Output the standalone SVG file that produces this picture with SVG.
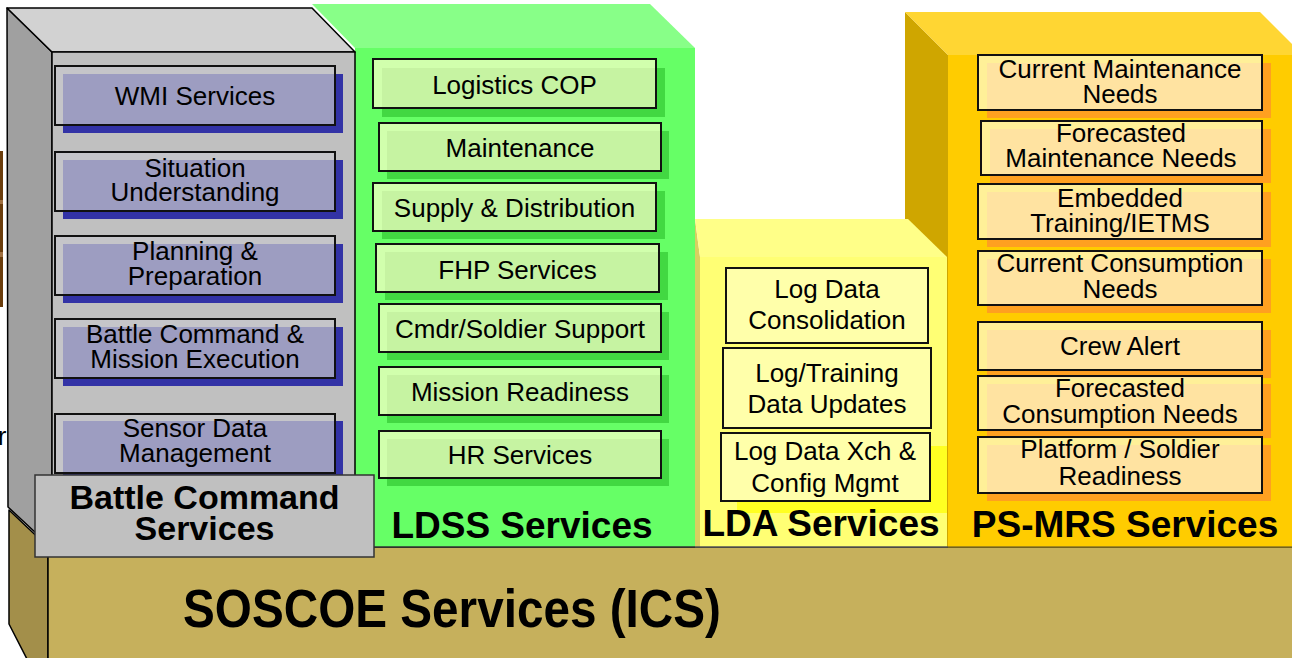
<svg xmlns="http://www.w3.org/2000/svg" width="1292" height="658" viewBox="0 0 1292 658">
  <style>
    text { font-family: "Liberation Sans", Arial, Helvetica, sans-serif; fill: #000; text-anchor: middle; }
    .item { font-size: 26px; }
    .title { font-size: 37px; font-weight: bold; }
    .edge { stroke: #000; stroke-width: 1.5; stroke-linejoin: round; }
    /* battle command items */
    .bc-shadow { fill: #3333a6; }
    .bc-face { fill: #c6c6cc; fill-opacity: 0.72; stroke: #111; stroke-width: 2; }
    /* LDSS items */
    .ld-shadow { fill: #42d842; }
    .ld-face { fill: #ffffcc; fill-opacity: 0.7; stroke: #111; stroke-width: 2; }
    /* PS-MRS items */
    .ps-shadow { fill: #ffa020; }
    .ps-face { fill: #ffffd8; fill-opacity: 0.7; stroke: #111; stroke-width: 2; }
    /* LDA items */
    .lda-face { fill: #ffffaa; stroke: #111; stroke-width: 2; }
  </style>

  <rect x="0" y="0" width="1292" height="658" fill="#ffffff"/>

  <!-- small fragments at the left margin -->
  <g id="margin-fragment">
    <rect x="0" y="151" width="3" height="156" fill="#6b3d0c"/>
    <rect x="0" y="200" width="3" height="4" fill="#a07040"/>
    <rect x="0" y="252" width="3" height="5" fill="#a07040"/>
    <text x="2" y="445" style="font-size:26px;fill:#000;">r</text>
  </g>

  <!-- SOSCOE base block -->
  <g id="soscoe-services">
    <polygon class="edge" points="9,510 48,547 48,700 9,624" fill="#a38f4a"/>
    <rect class="edge" x="48" y="547" width="1260" height="130" fill="#c6b05c"/>
    <text x="452" y="627" style="font-size:54px;font-weight:bold;" textLength="538" lengthAdjust="spacingAndGlyphs">SOSCOE Services (ICS)</text>
  </g>

  <!-- LDSS block -->
  <g id="ldss-services">
    <polygon points="312,4 650,4 695,48 355,48" fill="#88ff88"/>
    <rect x="355" y="48" width="340" height="499" fill="#66ff66"/>
    <line x1="355" y1="547" x2="695" y2="547" stroke="#333" stroke-width="1.5"/>

    <g id="logistics-cop">
      <rect class="ld-shadow" x="382" y="68" width="283" height="49"/>
      <rect class="ld-face" x="373" y="59" width="283" height="49"/>
      <text class="item" x="514.5" y="94">Logistics COP</text>
    </g>
    <g id="maintenance">
      <rect class="ld-shadow" x="387" y="131" width="282" height="48"/>
      <rect class="ld-face" x="379" y="123" width="282" height="48"/>
      <text class="item" x="520" y="157">Maintenance</text>
    </g>
    <g id="supply-distribution">
      <rect class="ld-shadow" x="382" y="191" width="283" height="48"/>
      <rect class="ld-face" x="373" y="183" width="283" height="48"/>
      <text class="item" x="514.5" y="217">Supply &amp; Distribution</text>
    </g>
    <g id="fhp-services">
      <rect class="ld-shadow" x="385" y="252" width="283" height="48"/>
      <rect class="ld-face" x="376" y="244" width="283" height="48"/>
      <text class="item" x="517.5" y="279">FHP Services</text>
    </g>
    <g id="cmdr-soldier-support">
      <rect class="ld-shadow" x="387" y="312" width="282" height="48"/>
      <rect class="ld-face" x="379" y="304" width="282" height="48"/>
      <text class="item" x="520" y="338">Cmdr/Soldier Support</text>
    </g>
    <g id="mission-readiness">
      <rect class="ld-shadow" x="387" y="375" width="282" height="48"/>
      <rect class="ld-face" x="379" y="367" width="282" height="48"/>
      <text class="item" x="520" y="401">Mission Readiness</text>
    </g>
    <g id="hr-services">
      <rect class="ld-shadow" x="387" y="439" width="282" height="47"/>
      <rect class="ld-face" x="379" y="431" width="282" height="47"/>
      <text class="item" x="520" y="464">HR Services</text>
    </g>

    <text class="title" x="522" y="538">LDSS Services</text>
  </g>

  <!-- PS-MRS block -->
  <g id="ps-mrs-services">
    <polygon points="905,12 948,55 948,547 905,547" fill="#cfa600"/>
    <polygon points="905,12 1260,12 1303,55 948,55" fill="#ffd633"/>
    <rect x="948" y="55" width="350" height="492" fill="#ffcc00"/>
    <line x1="948" y1="547" x2="1292" y2="547" stroke="#8a7420" stroke-width="1.5"/>

    <g id="current-maintenance-needs">
      <rect class="ps-shadow" x="987" y="63" width="284" height="55"/>
      <rect class="ps-face" x="978" y="55" width="284" height="55"/>
      <text class="item" x="1120" y="78">Current Maintenance</text>
      <text class="item" x="1120" y="103">Needs</text>
    </g>
    <g id="forecasted-maintenance-needs">
      <rect class="ps-shadow" x="990" y="129" width="281" height="54"/>
      <rect class="ps-face" x="981" y="121" width="281" height="54"/>
      <text class="item" x="1121" y="142">Forecasted</text>
      <text class="item" x="1121" y="167">Maintenance Needs</text>
    </g>
    <g id="embedded-training">
      <rect class="ps-shadow" x="987" y="192" width="284" height="55"/>
      <rect class="ps-face" x="978" y="184" width="284" height="55"/>
      <text class="item" x="1120" y="207">Embedded</text>
      <text class="item" x="1120" y="232">Training/IETMS</text>
    </g>
    <g id="current-consumption-needs">
      <rect class="ps-shadow" x="987" y="259" width="284" height="54"/>
      <rect class="ps-face" x="978" y="251" width="284" height="54"/>
      <text class="item" x="1120" y="272">Current Consumption</text>
      <text class="item" x="1120" y="298">Needs</text>
    </g>
    <g id="crew-alert">
      <rect class="ps-shadow" x="987" y="330" width="284" height="48"/>
      <rect class="ps-face" x="978" y="322" width="284" height="48"/>
      <text class="item" x="1120" y="355">Crew Alert</text>
    </g>
    <g id="forecasted-consumption-needs">
      <rect class="ps-shadow" x="987" y="384" width="284" height="54"/>
      <rect class="ps-face" x="978" y="376" width="284" height="54"/>
      <text class="item" x="1120" y="397">Forecasted</text>
      <text class="item" x="1120" y="423">Consumption Needs</text>
    </g>
    <g id="platform-soldier-readiness">
      <rect class="ps-shadow" x="987" y="445" width="284" height="56"/>
      <rect class="ps-face" x="978" y="437" width="284" height="56"/>
      <text class="item" x="1120" y="458">Platform / Soldier</text>
      <text class="item" x="1120" y="485">Readiness</text>
    </g>

    <text class="title" x="1125" y="537">PS-MRS Services</text>
  </g>

  <!-- LDA block -->
  <g id="lda-services">
    <polygon points="695,219 700,257 700,547 695,547" fill="#d8d060"/>
    <polygon points="695,219 908,219 947,257 700,257" fill="#ffff88"/>
    <rect x="700" y="257" width="247" height="290" fill="#ffff74"/>
    <rect x="737" y="446" width="210" height="67" fill="#ffff22"/>
    <line x1="695" y1="547" x2="948" y2="547" stroke="#555" stroke-width="1.5"/>

    <g id="log-data-consolidation">
      <rect class="lda-face" x="726" y="268" width="202" height="75"/>
      <text class="item" x="827" y="298">Log Data</text>
      <text class="item" x="827" y="329">Consolidation</text>
    </g>
    <g id="log-training-data-updates">
      <rect class="lda-face" x="723" y="348" width="208" height="80"/>
      <text class="item" x="827" y="382">Log/Training</text>
      <text class="item" x="827" y="413">Data Updates</text>
    </g>
    <g id="log-data-xch-config">
      <rect class="lda-face" x="721" y="433" width="209" height="68"/>
      <text class="item" x="825" y="460">Log Data Xch &amp;</text>
      <text class="item" x="825" y="492">Config Mgmt</text>
    </g>

    <text class="title" x="821" y="536">LDA Services</text>
  </g>

  <!-- Battle Command block -->
  <g id="battle-command-services">
    <polygon class="edge" points="7,8 52,52 52,548 8,507" fill="#a0a0a0"/>
    <polygon class="edge" points="7,8 312,8 355,52 52,52" fill="#d2d2d2"/>
    <rect class="edge" x="52" y="52" width="303" height="496" fill="#c0c0c0"/>

    <g id="wmi-services">
      <rect class="bc-shadow" x="63" y="74" width="280" height="59"/>
      <rect class="bc-face" x="55" y="66" width="280" height="59"/>
      <text class="item" x="195" y="105">WMI Services</text>
    </g>
    <g id="situation-understanding">
      <rect class="bc-shadow" x="63" y="160" width="280" height="59"/>
      <rect class="bc-face" x="55" y="152" width="280" height="59"/>
      <text class="item" x="195" y="177">Situation</text>
      <text class="item" x="195" y="201">Understanding</text>
    </g>
    <g id="planning-preparation">
      <rect class="bc-shadow" x="63" y="244" width="280" height="59"/>
      <rect class="bc-face" x="55" y="236" width="280" height="59"/>
      <text class="item" x="195" y="260">Planning &amp;</text>
      <text class="item" x="195" y="285">Preparation</text>
    </g>
    <g id="battle-command-mission-execution">
      <rect class="bc-shadow" x="63" y="327" width="280" height="59"/>
      <rect class="bc-face" x="55" y="319" width="280" height="59"/>
      <text class="item" x="195" y="343">Battle Command &amp;</text>
      <text class="item" x="195" y="368">Mission Execution</text>
    </g>
    <g id="sensor-data-management">
      <rect class="bc-shadow" x="63" y="421" width="280" height="59"/>
      <rect class="bc-face" x="55" y="414" width="280" height="59"/>
      <text class="item" x="195" y="437">Sensor Data</text>
      <text class="item" x="195" y="462">Management</text>
    </g>

    <g id="battle-command-label">
      <rect x="35" y="475" width="339" height="82" fill="#c0c0c0" stroke="#333" stroke-width="1.5"/>
      <text x="204.5" y="509" style="font-size:34px;font-weight:bold;">Battle Command</text>
      <text x="204.5" y="540" style="font-size:34px;font-weight:bold;">Services</text>
    </g>
  </g>

  <g id="connectors"/>
</svg>
